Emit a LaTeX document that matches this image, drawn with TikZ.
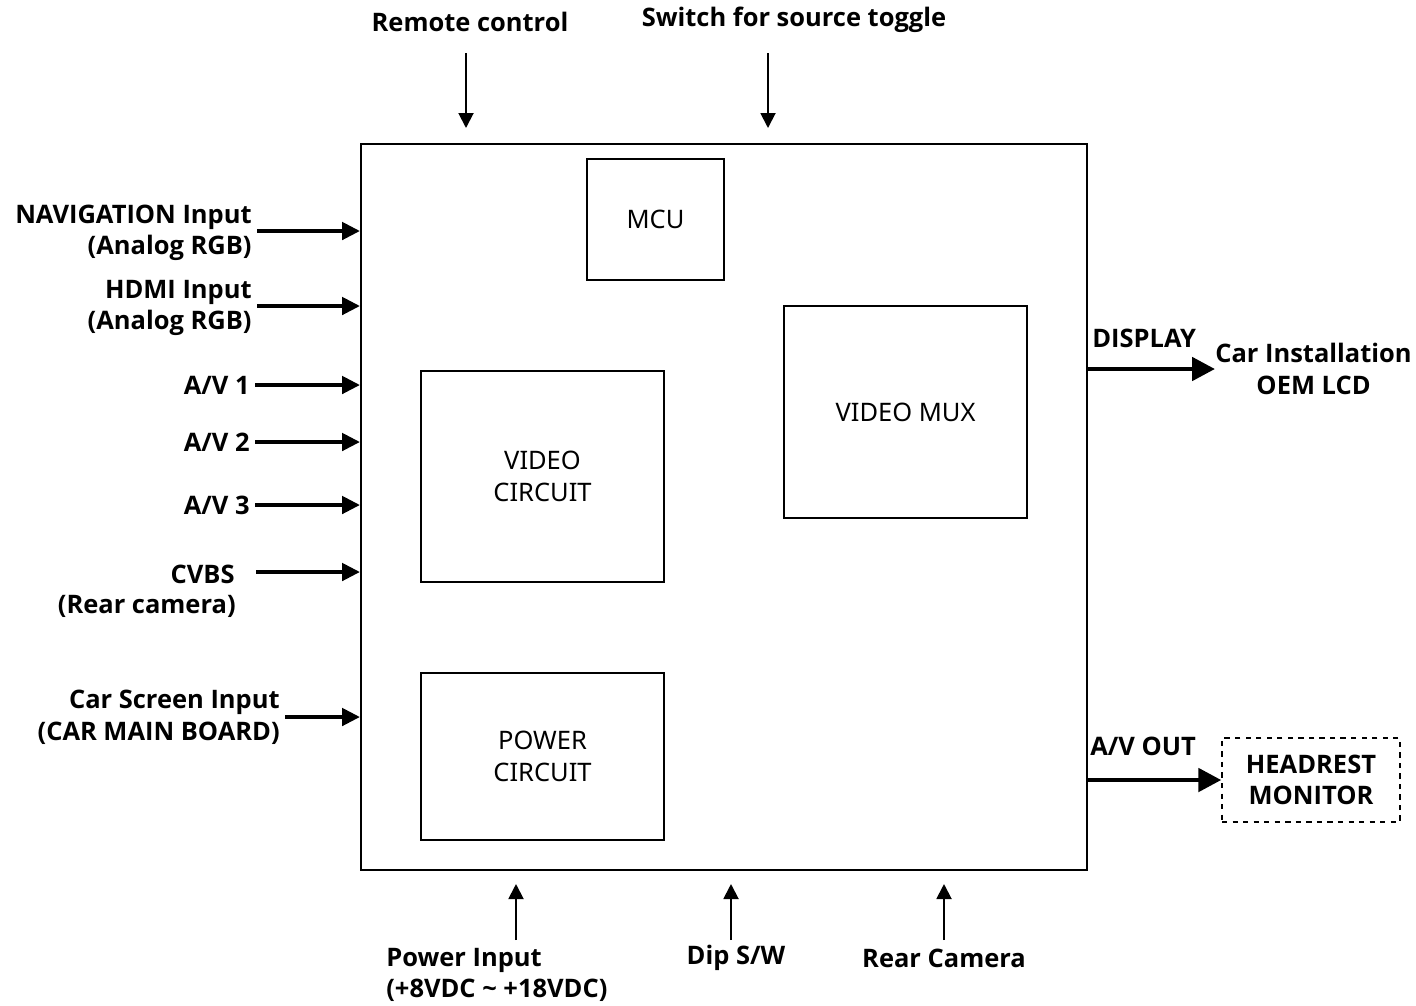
\documentclass[tikz,border=0pt]{standalone}
\usepackage{fontspec}
\setmainfont{Noto Sans}
\newfontfamily\labelfont{Open Sans}
\usetikzlibrary{arrows.meta,positioning}

\tikzstyle{mainbox} = [
rectangle,
minimum width=14.52cm,
minimum height=14.52cm,
draw=black,
line width=1.1pt,
inner sep=0pt
]
\tikzstyle{block} = [
rectangle,
text centered,
align=center,
draw=black,
line width=0.8pt,
inner sep=0pt,
font=\fontsize{14.5}{18}\selectfont
]
\tikzstyle{label} = [
inner sep=0pt,
font=\labelfont\fontsize{14.5}{18}\selectfont\bfseries
]
\tikzstyle{external} = [
rectangle,
align=center,
draw=black,
dashed,
line width=0.8pt,
minimum width=3.56cm,
minimum height=1.68cm,
font=\labelfont\fontsize{14.5}{18}\selectfont\bfseries
]
\tikzstyle{arrow} = [
line width=2.8pt,
-{Triangle[length=0.36cm,width=0.34cm]}
]
\tikzstyle{bigarrow} = [
line width=2.8pt,
-{Triangle[length=0.46cm,width=0.46cm]}
]
\tikzstyle{thinarrow} = [
line width=1.1pt,
-{Triangle[length=0.3cm,width=0.3cm]}
]

\begin{document}
\begin{tikzpicture}[
x=0.02cm,
y=-0.02cm
]
\useasboundingbox (0,0) rectangle (1416,1005);

% Nodes
\node (main) [mainbox] at (724,507) {};

\node (mcu) [block, minimum width=2.74cm, minimum height=2.42cm] at (655.5,219.5)
{MCU};

\node (mux) [block, minimum width=4.86cm, minimum height=4.24cm] at (905.5,412)
{VIDEO MUX};

\node (video) [block, minimum width=4.86cm, minimum height=4.22cm] at (542.5,476.5)
{VIDEO\\CIRCUIT};

\node (power) [block, minimum width=4.86cm, minimum height=3.34cm] at (542.5,756.5)
{POWER\\CIRCUIT};

% Left inputs
\node (nav) [label, align=right, anchor=east] at (252,233)
{NAVIGATION Input\\(Analog RGB)};

\node (hdmi) [label, align=right, anchor=east] at (252,308)
{HDMI Input\\(Analog RGB)};

\node (av1) [label, anchor=east] at (250,385) {A/V 1};

\node (av2) [label, anchor=east] at (250,442) {A/V 2};

\node (av3) [label, anchor=east] at (250,505) {A/V 3};

\node (cvbs) [label, anchor=east] at (235,574) {CVBS};

\node (rearcam) [label, anchor=east] at (236,606) {(Rear camera)};

\node (carscreen) [label, align=right, anchor=east] at (280,717)
{Car Screen Input\\(CAR MAIN BOARD)};

% Right outputs
\node (lcd) [label, align=center, anchor=west] at (1215,369)
{Car Installation\\OEM LCD};

\node (display) [label, anchor=west] at (1092,338) {DISPLAY};

\node (headrest) [external] at (1311,780)
{HEADREST\\MONITOR};

\node (avout) [label, anchor=west] at (1090,746) {A/V OUT};

% Top
\node (remote) [label] at (470,22) {Remote control};

\node (switch) [label] at (794,20) {Switch for source toggle};

\coordinate (remotetop) at (466,53);
\coordinate (remotebot) at (466,128);
\coordinate (switchtop) at (768,53);
\coordinate (switchbot) at (768,128);

% Bottom
\node (powerin) [label, align=left, anchor=west] at (386,975)
{Power Input\\(+8VDC \textasciitilde{} +18VDC)};

\node (dip) [label] at (736,958) {Dip S/W};

\node (rear) [label] at (944,958) {Rear Camera};

\coordinate (powerbot) at (516,940);
\coordinate (powertop) at (516,884);
\coordinate (dipbot) at (731,940);
\coordinate (diptop) at (731,884);
\coordinate (rearbot) at (944,940);
\coordinate (reartop) at (944,884);

\coordinate (cvbsstart) at (256,572);

% Arrows
\draw [arrow] ([xshift=3pt]nav.east |- 0,231) -- (main.west |- 0,231);
\draw [arrow] ([xshift=3pt]hdmi.east |- 0,306) -- (main.west |- 0,306);
\draw [arrow] ([xshift=3pt]av1.east) -- (main.west |- av1.east);
\draw [arrow] ([xshift=3pt]av2.east) -- (main.west |- av2.east);
\draw [arrow] ([xshift=3pt]av3.east) -- (main.west |- av3.east);
\draw [arrow] (cvbsstart) -- (main.west |- cvbsstart);
\draw [arrow] ([xshift=3pt]carscreen.east) -- (main.west |- carscreen.east);

\draw [bigarrow] (main.east |- lcd.west) -- (lcd.west);
\draw [bigarrow] (main.east |- headrest.west) -- (headrest.west);

\draw [thinarrow] (remotetop) -- (remotebot);
\draw [thinarrow] (switchtop) -- (switchbot);

\draw [thinarrow] (powerbot) -- (powertop);
\draw [thinarrow] (dipbot) -- (diptop);
\draw [thinarrow] (rearbot) -- (reartop);

\end{tikzpicture}
\end{document}
